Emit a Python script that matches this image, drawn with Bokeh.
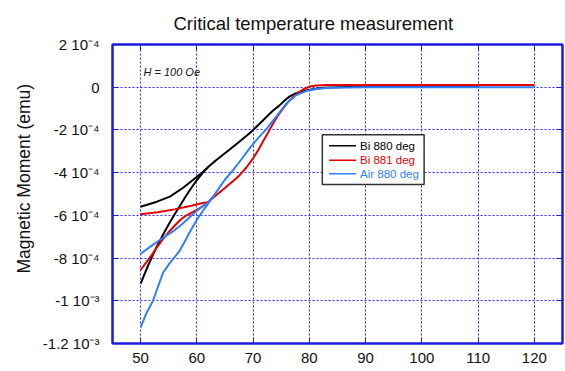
from bokeh.plotting import figure
from bokeh.models import (LinearAxis, FixedTicker, CustomJSTickFormatter, Range1d,
                          CustomLabelingPolicy, Title)
from bokeh.core.properties import value
from bokeh.embed import file_html
from bokeh.resources import INLINE

# ---------------- data (temperature in K, moment in emu) ----------------
bi880_zfc_T = [50, 51, 52, 53, 54, 55, 56, 57, 58, 59, 60, 61, 62, 63.3, 64.7, 66, 67.6, 69, 70,
               71.2, 72.4, 73.5, 74.7, 75.6, 76.5, 77.3, 78.2, 80, 82.4, 85, 90, 100, 110]
bi880_zfc_M = [-9.2e-4, -8.55e-4, -7.95e-4, -7.4e-4, -6.9e-4, -6.42e-4, -5.97e-4, -5.55e-4,
               -5.12e-4, -4.72e-4, -4.35e-4, -4.02e-4, -3.74e-4, -3.44e-4, -3.15e-4, -2.88e-4,
               -2.54e-4, -2.24e-4, -2.0e-4, -1.7e-4, -1.38e-4, -1.1e-4, -0.85e-4, -0.62e-4,
               -0.43e-4, -0.32e-4, -0.23e-4, -0.12e-4, -0.03e-4, 0.0, 0.05e-4, 0.05e-4, 0.05e-4]
bi880_fc_T = [50, 52.9, 55.2, 57.5, 59.8, 61, 62]
bi880_fc_M = [-5.6e-4, -5.36e-4, -5.12e-4, -4.72e-4, -4.24e-4, -3.98e-4, -3.74e-4]

bi881_zfc_T = [50, 51, 52, 53, 54, 55, 56, 57, 58, 59, 60, 61, 62, 63, 64.6, 65.5, 66.4, 67.6,
               68.8, 70, 71, 71.8, 72.6, 73.5, 74.4, 75.3, 76.2, 77.1, 78, 78.8, 80, 81.2, 83,
               90, 100, 110, 120]
bi881_zfc_M = [-8.56e-4, -8.2e-4, -7.85e-4, -7.45e-4, -7.1e-4, -6.78e-4, -6.5e-4, -6.23e-4,
               -6.02e-4, -5.88e-4, -5.74e-4, -5.58e-4, -5.38e-4, -5.15e-4, -4.8e-4, -4.6e-4,
               -4.4e-4, -4.12e-4, -3.76e-4, -3.33e-4, -2.9e-4, -2.52e-4, -2.15e-4, -1.72e-4,
               -1.33e-4, -1.0e-4, -0.7e-4, -0.46e-4, -0.26e-4, -0.12e-4, 0.03e-4, 0.08e-4,
               0.1e-4, 0.1e-4, 0.1e-4, 0.1e-4, 0.1e-4]
bi881_fc_T = [50, 53, 56, 59, 61, 62]
bi881_fc_M = [-5.95e-4, -5.85e-4, -5.72e-4, -5.55e-4, -5.42e-4, -5.38e-4]

air880_zfc_T = [50, 51, 52.2, 53, 54, 55, 56, 56.9, 58, 58.7, 60, 61, 62, 63, 64, 65, 66.5, 68,
                69.4, 71, 72.4, 74.1, 75.9, 77.6, 79.4, 81.2, 83.5, 90, 100, 110, 120]
air880_zfc_M = [-11.24e-4, -10.6e-4, -10.0e-4, -9.4e-4, -8.68e-4, -8.3e-4, -7.97e-4, -7.67e-4,
                -7.15e-4, -6.8e-4, -6.2e-4, -5.82e-4, -5.45e-4, -5.08e-4, -4.7e-4, -4.32e-4,
                -3.86e-4, -3.35e-4, -2.85e-4, -2.35e-4, -1.95e-4, -1.38e-4, -0.77e-4, -0.38e-4,
                -0.18e-4, -0.08e-4, -0.03e-4, 0.0, 0.0, 0.0, 0.0]
air880_fc_T = [50, 52.3, 54, 55.8, 57.5, 59, 60.5, 62, 63]
air880_fc_M = [-7.8e-4, -7.36e-4, -7.05e-4, -6.74e-4, -6.38e-4, -6.02e-4, -5.68e-4, -5.4e-4, -5.08e-4]

series_names = ["Bi 880 deg", "Bi 881 deg", "Air 880 deg"]
series_colors = ["#000000", "#e60000", "#2f7fff"]

x_ticks = [50, 60, 70, 80, 90, 100, 110, 120]
y_ticks = [-1.2e-3, -1e-3, -8e-4, -6e-4, -4e-4, -2e-4, 0.0, 2e-4]

# legend placement (data units) and note
legend_box = dict(left=82.3, right=100.4, top=-2.23e-4, bottom=-4.56e-4)
legend_line_x = [83.5, 88.3]
legend_text_x = 89.0
legend_rows_y = [-2.74e-4, -3.42e-4, -4.05e-4]

FONT = "Liberation Sans"
AX_BLUE = "#1a1ae0"
GRID_BLUE = "#2b2bff"

p = figure(width=565, height=371, output_backend="svg", toolbar_location=None,
           x_range=Range1d(45, 125), y_range=Range1d(-1.2e-3, 2e-4),
           min_border_left=112, min_border_right=3, min_border_top=43, min_border_bottom=28,
           x_axis_location=None, y_axis_location=None,
           title="Critical temperature measurement")

p.title.text_font = FONT
p.title.text_font_size = "18.5px"
p.title.text_font_style = "normal"
p.title.align = "left"
p.title.offset = 61
p.title.standoff = 21
p.title.text_color = "#111111"

p.outline_line_color = AX_BLUE
p.outline_line_width = 2
p.background_fill_color = "white"
p.border_fill_color = "white"

xt = FixedTicker(ticks=x_ticks, num_minor_ticks=5)
yt = FixedTicker(ticks=y_ticks, num_minor_ticks=4)

fmt = CustomJSTickFormatter(code="""
if (Math.abs(tick) < 1e-12) return "0";
const e = Math.floor(Math.log10(Math.abs(tick)) + 1e-9);
const m = Math.round(tick / Math.pow(10, e) * 10) / 10;
const sup = {"-":"\u207b","0":"\u2070","1":"\u00b9","2":"\u00b2","3":"\u00b3","4":"\u2074",
             "5":"\u2075","6":"\u2076","7":"\u2077","8":"\u2078","9":"\u2079"};
const es = String(e).split("").map(c => sup[c]).join("");
return m + " 10" + es;
""")

blank_fmt = CustomJSTickFormatter(code="return '';")
hide_all = CustomLabelingPolicy(code="""
try { for (let i = 0; i < indices.size; i++) { indices.unset(i) } } catch (err) {}
return indices
""")

def style_axis(ax, ticker, labels=True):
    ax.ticker = ticker
    ax.axis_line_color = AX_BLUE
    ax.axis_line_width = 2
    ax.major_tick_line_color = AX_BLUE
    ax.minor_tick_line_color = AX_BLUE
    ax.major_tick_in = 6
    ax.major_tick_out = 0
    ax.minor_tick_in = 3
    ax.minor_tick_out = 0
    ax.major_label_text_font = FONT
    ax.major_label_text_color = "#111111"
    if labels:
        ax.major_label_text_font_size = "15px"
    else:
        ax.formatter = blank_fmt
        ax.major_label_policy = hide_all
        ax.major_label_text_font_size = "1px"
        ax.major_label_standoff = 0

xb = LinearAxis()
style_axis(xb, xt)
xb.major_label_standoff = 9
p.add_layout(xb, "below")

yl = LinearAxis()
style_axis(yl, yt)
yl.formatter = fmt
yl.major_label_standoff = 13
p.add_layout(yl, "left")

xa = LinearAxis()
style_axis(xa, xt, labels=False)
p.add_layout(xa, "above")
yr = LinearAxis()
style_axis(yr, yt, labels=False)
p.add_layout(yr, "right")

# y-axis title, as a side title so it can sit slightly above the frame centre
ytitle = Title(text="Magnetic Moment (emu)", align="left", offset=70, standoff=11,
               text_font=FONT, text_font_size="17.5px", text_font_style="normal",
               text_color="#111111")
p.add_layout(ytitle, "left")

p.xgrid.ticker = xt
p.ygrid.ticker = yt
for g in (p.xgrid, p.ygrid):
    g.grid_line_color = GRID_BLUE
    g.grid_line_dash = "2 2"
    g.grid_line_width = 1

curves = [(bi880_zfc_T, bi880_zfc_M, bi880_fc_T, bi880_fc_M),
          (bi881_zfc_T, bi881_zfc_M, bi881_fc_T, bi881_fc_M),
          (air880_zfc_T, air880_zfc_M, air880_fc_T, air880_fc_M)]
for (zt, zm, ft, fm), c in zip(curves, series_colors):
    p.line(zt, zm, line_color=c, line_width=2)
    p.line(ft, fm, line_color=c, line_width=2)

# note
p.text(x=[50.5], y=[0.7e-4], text=["H = 100 Oe"], text_font=value(FONT),
       text_font_size="11px", text_font_style="italic", text_baseline="middle",
       text_align="left", text_color="#111111")

# legend
p.quad(left=[legend_box["left"]], right=[legend_box["right"]],
       top=[legend_box["top"]], bottom=[legend_box["bottom"]],
       fill_color="white", line_color="#333333", line_width=1.5)
for name, c, yy in zip(series_names, series_colors, legend_rows_y):
    p.line(legend_line_x, [yy, yy], line_color=c, line_width=1.5)
    p.text(x=[legend_text_x], y=[yy], text=[name], text_font=value(FONT),
           text_font_size="11.5px", text_baseline="middle", text_align="left",
           text_color=c)

open("out.html", "w").write(file_html(p, INLINE))
